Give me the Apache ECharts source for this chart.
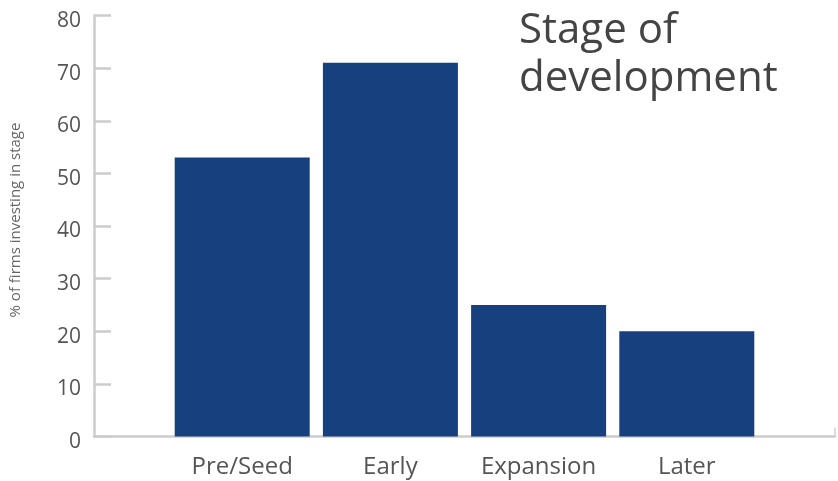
<!DOCTYPE html>
<html>
<head>
<meta charset="utf-8">
<style>
  html, body { margin: 0; padding: 0; background: #fff; }
  #chart { width: 838px; height: 481px; }
</style>
<script src="https://cdn.jsdelivr.net/npm/echarts@6/dist/echarts.min.js"></script>
</head>
<body>
<div id="chart"></div>
<script>
// Stages, padded with blank slots at both ends so bars sit between axis edges
const stages = ['', 'Pre/Seed', 'Early', 'Expansion', 'Later', ''];
// Share of firms investing in each stage (%)
const sharePct = [null, 53, 71, 25, 20, null];
const yTicks = { min: 0, max: 80, interval: 10 };

const FONT = '"Open Sans", Lato, sans-serif';
const chart = echarts.init(document.getElementById('chart'), null, { renderer: 'canvas' });

chart.setOption({
  animation: false,
  backgroundColor: '#ffffff',
  title: {
    text: 'Stage of\ndevelopment',
    left: 514,
    top: 2,
    textStyle: {
      fontFamily: FONT,
      fontSize: 42,
      fontWeight: 'normal',
      color: '#444444',
      lineHeight: 48
    }
  },
  grid: { left: 94, top: 15.5, width: 745, bottom: 44.5, containLabel: false },
  xAxis: {
    type: 'category',
    data: stages,
    boundaryGap: false,
    axisLine: { show: true, lineStyle: { color: '#cccccc', width: 2.5 } },
    axisTick: {
      show: true,
      inside: true,
      length: 9,
      interval: (i) => i === stages.length - 1,
      lineStyle: { color: '#d4d4d4', width: 1.5 }
    },
    axisLabel: {
      margin: 19,
      fontFamily: FONT,
      fontSize: 24,
      color: '#555555',
      interval: 0
    },
    splitLine: { show: false }
  },
  yAxis: {
    type: 'value',
    min: yTicks.min,
    max: yTicks.max,
    interval: yTicks.interval,
    name: '% of firms investing in stage',
    nameLocation: 'middle',
    nameGap: 71,
    nameRotate: 90,
    nameTextStyle: { fontFamily: FONT, fontSize: 15, color: '#666666', padding: [0, 0, 0, 12] },
    axisLine: { show: true, lineStyle: { color: '#cccccc', width: 2.5 } },
    axisTick: { show: true, inside: true, length: 17, lineStyle: { color: '#cccccc', width: 2.5 } },
    axisLabel: {
      margin: 13,
      fontFamily: FONT,
      fontSize: 21,
      color: '#555555',
      verticalAlign: 'top',
      lineHeight: 11
    },
    splitLine: { show: false }
  },
  series: [{
    type: 'bar',
    data: sharePct,
    barWidth: 135,
    itemStyle: { color: '#17417e' },
    z: 3
  }]
});
</script>
</body>
</html>
